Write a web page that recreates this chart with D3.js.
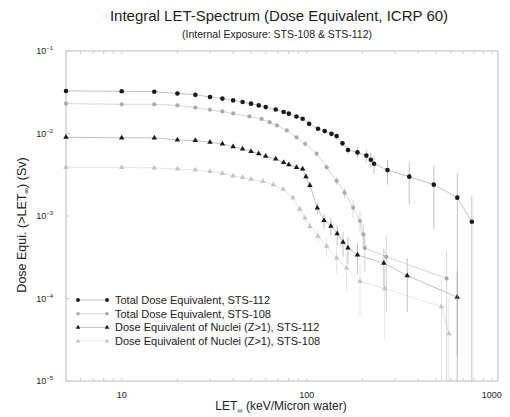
<!DOCTYPE html>
<html>
<head>
<meta charset="utf-8">
<script src="https://cdn.jsdelivr.net/npm/d3@7"></script>
<style>
  body { margin: 0; background: #fff; }
  text { font-family: "Liberation Sans", Arial, sans-serif; fill: #222; }
</style>
</head>
<body>
<div id="chart"></div>
<script>
// Total dose equivalent, STS-112
const let112 = [5, 10, 15, 20, 25, 30, 35, 40, 45, 50, 55, 60, 68, 75, 80, 88, 95, 103, 115, 125, 136, 145, 156, 167, 188, 210, 222, 231, 273, 358, 486, 651, 780];
const dose112 = [0.0328, 0.0325, 0.0321, 0.0306, 0.0294, 0.0277, 0.0265, 0.0252, 0.0241, 0.0230, 0.0219, 0.0209, 0.0195, 0.0182, 0.0174, 0.0161, 0.0151, 0.0131, 0.0114, 0.0107, 0.0099, 0.0093, 0.0076, 0.0063, 0.0059, 0.0054, 0.0048, 0.0043, 0.0036, 0.0030, 0.0024, 0.00167, 0.00085];
const err112 = [0.0004, 0.0004, 0.0004, 0.0004, 0.0004, 0.0004, 0.0004, 0.0004, 0.0004, 0.0004, 0.0004, 0.0004, 0.0004, 0.0004, 0.0004, 0.0004, 0.0004, 0.0005, 0.0005, 0.0005, 0.0005, 0.0006, 0.0006, 0.0007, 0.0008, 0.0009, 0.0010, 0.0011, 0.0012, 0.0016, 0.0017, 0.00165, 0.0009];

// Total dose equivalent, STS-108
const let108 = [5, 10, 15, 20, 25, 30, 35, 40, 49, 57, 63, 69, 78, 88, 98, 113, 128, 145, 160, 178, 194, 202, 206, 269, 570];
const dose108 = [0.0230, 0.0226, 0.0226, 0.0219, 0.0206, 0.0194, 0.0185, 0.0175, 0.0161, 0.0150, 0.0137, 0.0125, 0.0109, 0.0090, 0.0075, 0.0057, 0.0039, 0.00267, 0.00192, 0.00126, 0.00087, 0.00060, 0.00041, 0.00032, 0.000175];
const err108 = [0.0003, 0.0003, 0.0003, 0.0003, 0.0003, 0.0003, 0.0003, 0.0003, 0.0003, 0.0003, 0.0003, 0.0003, 0.0003, 0.0003, 0.0003, 0.0003, 0.0003, 0.0003, 0.0003, 0.0003, 0.00025, 0.0002, 0.0002, 0.00025, 0.0002];

// Dose equivalent of nuclei (Z>1), STS-112
const letZ112 = [5, 10, 15, 20, 25, 30, 35, 40, 45, 50, 55, 60, 68, 75, 80, 88, 95, 99, 104, 114, 124, 135, 146, 157, 167, 188, 261, 349, 650];
const doseZ112 = [0.0090, 0.00887, 0.00887, 0.00838, 0.00822, 0.00783, 0.00748, 0.00693, 0.0065, 0.00608, 0.0057, 0.00532, 0.00491, 0.00447, 0.00419, 0.00388, 0.00371, 0.00299, 0.00235, 0.00125, 0.000887, 0.000755, 0.000612, 0.000482, 0.00041, 0.000337, 0.000269, 0.000189, 0.000104];
const errZ112 = [0.0002, 0.0002, 0.0002, 0.0002, 0.0002, 0.0002, 0.0002, 0.0002, 0.0002, 0.0002, 0.0002, 0.0002, 0.0002, 0.0002, 0.0002, 0.0002, 0.0002, 0.0002, 0.0002, 0.0002, 0.00018, 0.00018, 0.00017, 0.00016, 0.00015, 0.00014, 0.00013, 0.00012, 0.00011];

// Dose equivalent of nuclei (Z>1), STS-108
const letZ108 = [5, 10, 15, 20, 25, 30, 35, 40, 45, 50, 58, 66, 74.5, 84, 91.6, 97.7, 104, 115, 128, 145, 164, 194, 264, 534, 587];
const doseZ108 = [0.00388, 0.00388, 0.00382, 0.00371, 0.00361, 0.00347, 0.00328, 0.00307, 0.00293, 0.00280, 0.00262, 0.00239, 0.00212, 0.00167, 0.00121, 0.00095, 0.00075, 0.00057, 0.00043, 0.00031, 0.000234, 0.000161, 0.000132, 0.0000798, 0.0000374];
const errZ108 = [0.0001, 0.0001, 0.0001, 0.0001, 0.0001, 0.0001, 0.0001, 0.0001, 0.0001, 0.0001, 0.0001, 0.0001, 0.0001, 0.0001, 0.0001, 0.0001, 0.0001, 0.0001, 0.00011, 0.00011, 0.00011, 0.0001, 0.0001, 0.00009, 0.00006];

const seriesNames = [
  "Total Dose Equivalent, STS-112",
  "Total Dose Equivalent, STS-108",
  "Dose Equivalent of Nuclei (Z>1), STS-112",
  "Dose Equivalent of Nuclei (Z>1), STS-108"
];

const yTicks = [1e-1, 1e-2, 1e-3, 1e-4, 1e-5];
const xTicks = [10, 100, 1000];

const width = 510, height = 417;
const margin = { top: 51, right: 12, bottom: 36, left: 66 };

const svg = d3.select("#chart").append("svg")
    .attr("width", width)
    .attr("height", height);

const x = d3.scaleLog().domain([5, 1080]).range([margin.left, width - margin.right]);
const y = d3.scaleLog().domain([1e-5, 1e-1]).range([height - margin.bottom, margin.top]);

// styles per series
const styles = [
  { color: "#1a1a1a", line: "#999", r: 2.3, shape: "circle" },
  { color: "#aaa", line: "#bbb", r: 2.1, shape: "circle" },
  { color: "#1a1a1a", line: "#999", r: 1.7, shape: "triangle" },
  { color: "#c4c4c4", line: "#d4d4d4", r: 1.7, shape: "triangle" }
];

const series = [
  { lets: let112, dose: dose112, err: err112 },
  { lets: let108, dose: dose108, err: err108 },
  { lets: letZ112, dose: doseZ112, err: errZ112 },
  { lets: letZ108, dose: doseZ108, err: errZ108 }
].map((s, i) => ({
  name: seriesNames[i],
  style: styles[i],
  points: s.lets.map((l, j) => ({ l: l, d: s.dose[j], e: s.err[j] }))
}));

// frame
svg.append("rect")
    .attr("x", margin.left).attr("y", margin.top)
    .attr("width", width - margin.left - margin.right)
    .attr("height", height - margin.top - margin.bottom)
    .attr("fill", "none").attr("stroke", "#bbb").attr("stroke-width", 1);

// minor ticks on x (top and bottom)
const xMinor = x.ticks();
svg.append("g").selectAll("line")
    .data(xMinor)
    .enter().append("line")
    .attr("x1", d => x(d)).attr("x2", d => x(d))
    .attr("y1", height - margin.bottom).attr("y2", height - margin.bottom - 3)
    .attr("stroke", "#ccc");
svg.append("g").selectAll("line")
    .data(xMinor)
    .enter().append("line")
    .attr("x1", d => x(d)).attr("x2", d => x(d))
    .attr("y1", margin.top).attr("y2", margin.top + 3)
    .attr("stroke", "#ccc");

// x tick labels
svg.append("g").selectAll("text")
    .data(xTicks)
    .enter().append("text")
    .attr("x", d => x(d))
    .attr("y", height - margin.bottom + 17)
    .attr("text-anchor", "middle")
    .attr("font-size", 9)
    .text(d => d);

// y tick labels 10^n
const yl = svg.append("g").selectAll("text")
    .data(yTicks)
    .enter().append("text")
    .attr("x", margin.left - 13)
    .attr("y", d => y(d) + 3)
    .attr("text-anchor", "end")
    .attr("font-size", 9);
yl.append("tspan").text("10");
yl.append("tspan")
    .attr("dy", -4).attr("font-size", 6)
    .text(d => "\u2212" + Math.round(-Math.log10(d)));

// y ticks
svg.append("g").selectAll("line")
    .data(yTicks)
    .enter().append("line")
    .attr("x1", margin.left).attr("x2", margin.left + 4)
    .attr("y1", d => y(d)).attr("y2", d => y(d))
    .attr("stroke", "#ccc");

// titles
svg.append("text")
    .attr("x", 279).attr("y", 21)
    .attr("text-anchor", "middle")
    .attr("font-size", 15)
    .text("Integral LET-Spectrum (Dose Equivalent, ICRP 60)");
svg.append("text")
    .attr("x", 277).attr("y", 38)
    .attr("text-anchor", "middle")
    .attr("font-size", 10.5)
    .text("(Internal Exposure: STS-108 & STS-112)");

// axis labels
const xl = svg.append("text")
    .attr("x", 281).attr("y", 410)
    .attr("text-anchor", "middle")
    .attr("font-size", 12);
xl.append("tspan").text("LET");
xl.append("tspan").attr("dy", 2.5).attr("font-size", 7.5).text("\u221e");
xl.append("tspan").attr("dy", -2.5).text(" (keV/Micron water)");

const ylab = svg.append("text")
    .attr("transform", "translate(26,225) rotate(-90)")
    .attr("text-anchor", "middle")
    .attr("font-size", 12.5);
ylab.append("tspan").text("Dose Equi. (>LET");
ylab.append("tspan").attr("dy", 3).attr("font-size", 8).text("\u221e");
ylab.append("tspan").attr("dy", -3).text(") (Sv)");

const yBottom = height - margin.bottom;
const yClip = v => v <= 1e-5 ? yBottom : Math.min(yBottom, y(v));

// draw series: error bars, lines, markers
const line = d3.line().x(p => x(p.l)).y(p => y(p.d));

function marker(g, shape, r, color) {
  if (shape === "circle") {
    g.append("circle").attr("r", r).attr("fill", color);
  } else {
    g.append("path")
      .attr("d", d3.symbol().type(d3.symbolTriangle).size(r * r * 4.5)())
      .attr("fill", color);
  }
}

series.slice().reverse().forEach(s => {
  const g = svg.append("g");
  g.selectAll(".err")
    .data(s.points)
    .enter().append("line")
    .attr("x1", p => x(p.l)).attr("x2", p => x(p.l))
    .attr("y1", p => y(p.d + p.e))
    .attr("y2", p => yClip(p.d - p.e))
    .attr("stroke", s.style.line).attr("stroke-width", 0.6);
  g.append("path")
    .datum(s.points)
    .attr("d", line)
    .attr("fill", "none")
    .attr("stroke", s.style.line)
    .attr("stroke-width", 0.6);
  g.selectAll(".pt")
    .data(s.points)
    .enter().append("g")
    .attr("transform", p => `translate(${x(p.l)},${y(p.d)})`)
    .each(function() { marker(d3.select(this), s.style.shape, s.style.r, s.style.color); });
});

// legend
const legend = svg.append("g").attr("transform", "translate(78,300)");
const items = legend.selectAll("g")
    .data(series)
    .enter().append("g")
    .attr("transform", (d, i) => `translate(0,${i * 13.7})`);
items.append("line")
    .attr("x1", 0).attr("x2", 29)
    .attr("stroke", d => d.style.line).attr("stroke-width", 0.6);
items.each(function(d) {
  const it = d3.select(this);
  marker(it.append("g"), d.style.shape, d.style.r * 0.85, d.style.color);
  marker(it.append("g").attr("transform", "translate(29,0)"), d.style.shape, d.style.r * 0.85, d.style.color);
});
items.append("text")
    .attr("x", 37).attr("y", 4)
    .attr("font-size", 11)
    .text(d => d.name);
</script>
</body>
</html>
